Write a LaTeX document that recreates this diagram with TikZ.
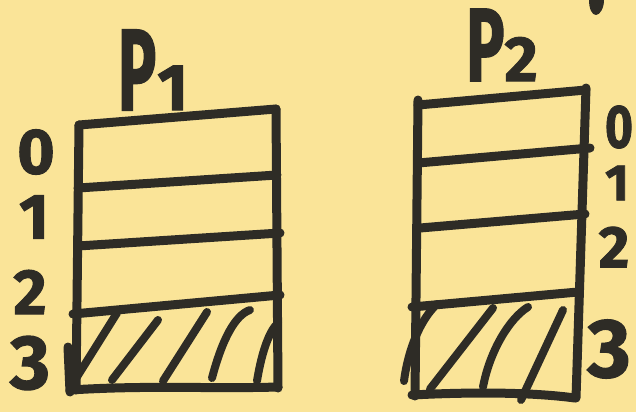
\documentclass[tikz,border=0pt]{standalone}
\usepackage{fontspec}
\setmainfont{Fira Sans}
\newfontfamily\handfont[FakeBold=1.5]{Fira Sans}
\definecolor{paper}{RGB}{250,228,152}
\definecolor{inkc}{RGB}{46,44,38}
\tikzset{
  ink/.style={draw=inkc, line width=9pt, line cap=round, line join=round},
  hatchline/.style={draw=inkc, line width=8pt, line cap=round},
  lbl/.style={text=inkc, font=\handfont\bfseries\fontsize{64}{66}\selectfont, inner sep=0pt},
  plbl/.style={text=inkc, font=\handfont\bfseries\fontsize{116}{116}\selectfont, inner sep=0pt}
}
\begin{document}
\begin{tikzpicture}[x=1pt,y=-1pt]
\fill[paper] (0,0) rectangle (636,412);
\useasboundingbox (0,0) rectangle (636,412);

% ---------- P1 box ----------
\coordinate (a1) at (79,125);
\coordinate (a2) at (276,109);
\draw[ink] (a1) -- (a2);
\draw[ink] (a1) -- (76,390);
\draw[ink] (a2) -- (278,388);
\draw[ink] (78,188) -- (277,175);
\draw[ink] (78,246) -- (280,233);
\draw[ink] (73,314) -- (280,295);
\draw[ink] (70,390) .. controls (150,385) and (210,389) .. (278,387);
% hatches
\draw[hatchline] (75,380) -- (117,313);
\draw[hatchline] (112,380) -- (158,320);
\draw[hatchline] (163,381) -- (207,312);
\draw[hatchline] (212,378) .. controls (222,340) and (235,315) .. (250,310);
\draw[hatchline] (257,381) .. controls (262,350) and (270,330) .. (278,323);
\draw[ink] (68,347) -- (70,392);

% ---------- P2 box ----------
\coordinate (b1) at (418,105);
\coordinate (b2) at (586,90);
\draw[ink] (b1) -- (b2);
\draw[ink] (418,100) -- (415,396);
\draw[ink] (586,88) -- (576,398);
\draw[ink] (418,163) -- (590,148);
\draw[ink] (420,228) -- (585,214);
\draw[ink] (412,307) -- (578,292);
\draw[ink] (412,395) .. controls (470,392) and (530,392) .. (575,398);
% hatches
\draw[hatchline] (404,381) .. controls (408,350) and (420,320) .. (437,304);
\draw[hatchline] (430,389) -- (493,308);
\draw[hatchline] (483,387) .. controls (490,350) and (510,318) .. (528,307);
\draw[hatchline] (521,400) -- (563,310);

% top right mark
\fill[inkc] (589,0) .. controls (589,9) and (592,15) .. (596,15) .. controls (600,15) and (604,8) .. (604,0) -- cycle;

% ---------- labels ----------
\node[plbl] (p1) at (153,70) {\scalebox{0.55}[1]{P}\hspace{1pt}{\fontsize{66}{66}\selectfont 1}};
\node[plbl] (p2) at (502,45) {\scalebox{0.55}[0.9]{P}{\fontsize{64}{64}\selectfont 2}};

\node[lbl] (l0) at (36,152) {0};
\node[lbl] (l1) at (34,217) {1};
\node[lbl] (l2) at (30,292) {2};
\node[lbl,scale=1.2] (l3) at (30,363) {3};

\node[lbl,xscale=0.75,yscale=0.95] (r0) at (619,127) {0};
\node[lbl,scale=0.8] (r1) at (617,183) {1};
\node[lbl,scale=0.92] (r2) at (614,247) {2};
\node[lbl,scale=1.3] (r3) at (609,349) {3};
\end{tikzpicture}
\end{document}
